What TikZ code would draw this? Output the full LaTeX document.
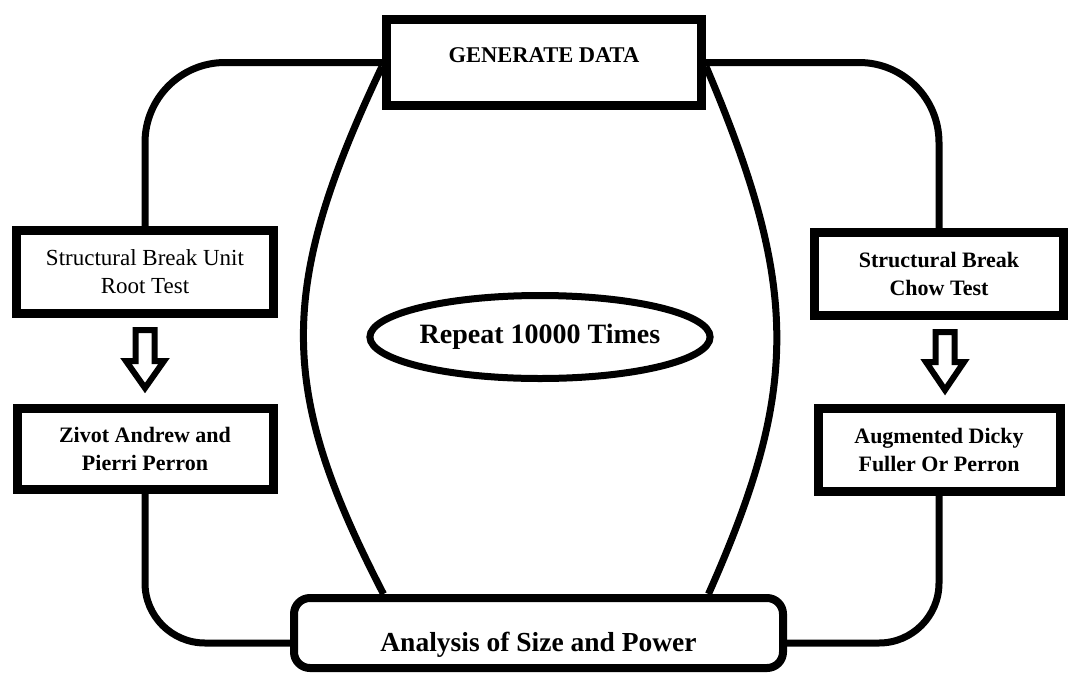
\documentclass[tikz,border=0pt]{standalone}
\usepackage{fontspec}
\setmainfont{Liberation Serif}
\usetikzlibrary{positioning,shapes.geometric}

\begin{document}
\begin{tikzpicture}[x=1pt,y=1pt,inner sep=0pt]
\tikzstyle{box}=[rectangle, draw=black, line width=9pt, fill=white, align=center, font=\fontsize{22}{28}\selectfont\bfseries]
\tikzstyle{link}=[draw=black, line width=7pt, rounded corners=80pt]
\tikzstyle{bulge}=[draw=black, line width=7pt]
\tikzstyle{hollow}=[draw=black, line width=6pt, fill=white, line join=miter]
\useasboundingbox (0,0) rectangle (1073,-675);
\node[box,minimum width=315pt,minimum height=86pt,text height=16pt,text depth=16pt,font=\fontsize{22.5}{26}\selectfont\bfseries] (gen) at (544,-62.5) {GENERATE DATA};
\node[box,minimum width=257pt,minimum height=83pt,font=\fontsize{23}{28}\selectfont] (ub) at (145,-272) {Structural Break Unit\\Root Test};
\node[box,minimum width=256pt,minimum height=81pt] (za) [below=86pt of ub] {Zivot Andrew and\\Pierri Perron};
\node[box,minimum width=249pt,minimum height=83pt] (ct) at (939,-274) {Structural Break\\Chow Test};
\node[box,minimum width=242pt,minimum height=83pt] (adf) [below=84pt of ct] {Augmented Dicky\\Fuller Or Perron};
\node[ellipse,draw=black,line width=7pt,fill=white,minimum width=337pt,minimum height=83pt,font=\fontsize{28}{32}\selectfont\bfseries] (rep) at (540,-337) {Repeat 10000 Times};
\node[box,rounded corners=16pt,line width=8pt,minimum width=489pt,minimum height=70pt,text height=36pt,text depth=0pt,font=\fontsize{27.5}{32}\selectfont\bfseries] (ana) at (538.5,-633) {Analysis of Size and Power};
% outer loop
\path[link] (gen.west) -| (ub.north);
\path[link] (gen.east) -| (ct.north);
\path[link,rounded corners=60pt] (za.south) |- ([yshift=-10pt]ana.west);
\path[link,rounded corners=60pt] (adf.south) |- ([yshift=-10pt]ana.east);
% inner curves
\path[bulge] ([yshift=-4pt]gen.west) .. controls (276,-290) and (278,-390) .. ([xshift=-155pt]ana.north);
\path[bulge] ([yshift=-4pt]gen.east) .. controls (801,-290) and (799,-390) .. ([xshift=170pt]ana.north);
% hollow arrows
\draw[hollow] (135.5,-330) -- (154.5,-330) -- (154.5,-361) -- (164,-361) -- (145,-388) -- (126,-361) -- (135.5,-361) -- cycle;
\draw[hollow] (935.5,-332) -- (954.5,-332) -- (954.5,-362) -- (964,-362) -- (945,-390) -- (926,-362) -- (935.5,-362) -- cycle;
\end{tikzpicture}
\end{document}
